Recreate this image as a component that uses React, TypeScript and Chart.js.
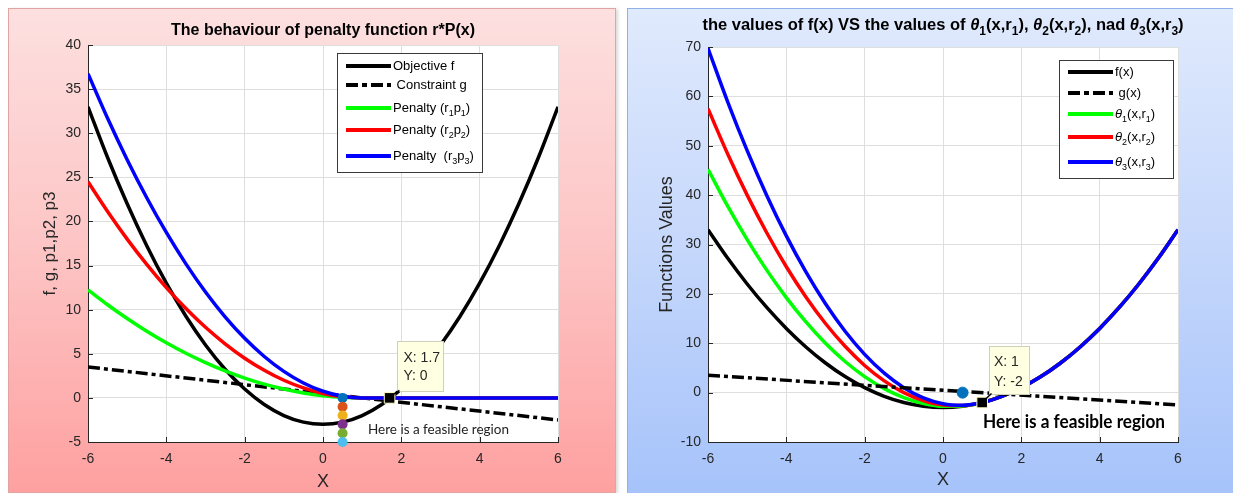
import React, { useEffect, useRef } from 'react';
import { Chart, registerables } from 'chart.js';

Chart.register(...registerables);

// ---------------- data ----------------
const X_VALUES = [-6, -5.5, -5, -4.5, -4, -3.5, -3, -2.5, -2, -1.5, -1, -0.5, 0, 0.5, 1, 1.5, 2, 2.5, 3, 3.5, 4, 4.5, 5, 5.5, 6];
const OBJECTIVE_F = [33, 27.25, 22, 17.25, 13, 9.25, 6, 3.25, 1, -0.75, -2, -2.75, -3, -2.75, -2, -0.75, 1, 3.25, 6, 9.25, 13, 17.25, 22, 27.25, 33];
const CONSTRAINT_X = [-6, 6];
const CONSTRAINT_G = [3.5, -2.5];
const PENALTY_1 = [12.25, 10.56, 9, 7.56, 6.25, 5.06, 4, 3.06, 2.25, 1.56, 1, 0.56, 0.25, 0.06, 0, 0, 0, 0, 0, 0, 0, 0, 0, 0, 0];
const PENALTY_2 = [24.5, 21.13, 18, 15.13, 12.5, 10.13, 8, 6.13, 4.5, 3.13, 2, 1.13, 0.5, 0.13, 0, 0, 0, 0, 0, 0, 0, 0, 0, 0, 0];
const PENALTY_3 = [36.75, 31.69, 27, 22.69, 18.75, 15.19, 12, 9.19, 6.75, 4.69, 3, 1.69, 0.75, 0.19, 0, 0, 0, 0, 0, 0, 0, 0, 0, 0, 0];
const THETA_1 = [45.25, 37.81, 31, 24.81, 19.25, 14.31, 10, 6.31, 3.25, 0.81, -1, -2.19, -2.75, -2.69, -2, -0.75, 1, 3.25, 6, 9.25, 13, 17.25, 22, 27.25, 33];
const THETA_2 = [57.5, 48.38, 40, 32.38, 25.5, 19.38, 14, 9.38, 5.5, 2.38, 0, -1.62, -2.5, -2.62, -2, -0.75, 1, 3.25, 6, 9.25, 13, 17.25, 22, 27.25, 33];
const THETA_3 = [69.75, 58.94, 49, 39.94, 31.75, 24.44, 18, 12.44, 7.75, 3.94, 1, -1.06, -2.25, -2.56, -2, -0.75, 1, 3.25, 6, 9.25, 13, 17.25, 22, 27.25, 33];

const MARKER_X = 0.5;
const MARKER_Y = [0, -1, -2, -3, -4, -5];
const MARKER_COLORS = ['#0072BD', '#D95319', '#EDB120', '#7E2F8E', '#77AC30', '#4DBEEE'];
const RIGHT_DOT = [0.5, 0];
const LEFT_TIP = [1.7, 0];
const RIGHT_TIP = [1, -2];

const X_TICK_STEP = 2;
const LEFT_Y = [-5, 40, 5];
const RIGHT_Y = [-10, 70, 10];

// ---------------- styling ----------------
const FONT = '"Liberation Sans", Arial, Helvetica, sans-serif';
const NOTE_FONT = 'Lato, "Open Sans", sans-serif';
const TXT = '#262626';
const GRID = '#dedede';

type Seg = { t: string; sub?: boolean; it?: boolean };
type LegendItem = { y: number; color: string; dash?: number[]; segs: Seg[] };
type PanelCfg = {
  title: Seg[];
  titleY: number;
  titleSize: number;
  yTitle: string;
  yTitleX: number;
  yTitleSize: number;
  xTitleY: number;
  legendBox: [number, number, number, number];
  legendLineX: [number, number];
  legendTextX: number;
  legendSize: number;
  legend: LegendItem[];
  tip: { x: number; y: number; lines: string[]; dx: number; dy: number; w: number; h: number; tx: number; ly: number[] };
  note: { text: string; x: number; w: number; y: number; size: number; bold: boolean; color: string };
};

function drawRich(ctx: CanvasRenderingContext2D, segs: Seg[], x: number, y: number, size: number, bold: boolean, align: 'left' | 'center', color: string) {
  const fontFor = (s: Seg) => `${s.it ? 'italic ' : ''}${bold ? 'bold ' : ''}${s.sub ? Math.round(size * 0.72) : size}px ${FONT}`;
  let total = 0;
  const widths = segs.map((s) => {
    ctx.font = fontFor(s);
    const w = ctx.measureText(s.t).width;
    total += w;
    return w;
  });
  let cx = align === 'center' ? x - total / 2 : x;
  ctx.fillStyle = color;
  ctx.textBaseline = 'middle';
  ctx.textAlign = 'left';
  segs.forEach((s, i) => {
    ctx.font = fontFor(s);
    ctx.fillText(s.t, cx, s.sub ? y + size * 0.4 : y);
    cx += widths[i];
  });
}

const makePlugin = (cfg: PanelCfg) => ({
  id: 'panelDecor',
  beforeDraw(chart: any) {
    const { ctx, chartArea: a } = chart;
    ctx.save();
    ctx.fillStyle = '#ffffff';
    ctx.fillRect(a.left, a.top, a.right - a.left, a.bottom - a.top);
    ctx.restore();
  },
  beforeDatasetsDraw(chart: any) {
    const { ctx, chartArea: a, scales } = chart;
    ctx.save();
    ctx.strokeStyle = TXT;
    ctx.lineWidth = 1;
    scales.x.ticks.forEach((t: any) => {
      const px = Math.round(scales.x.getPixelForValue(t.value)) + 0.5;
      ctx.beginPath();
      ctx.moveTo(px, a.bottom);
      ctx.lineTo(px, a.bottom - 5);
      ctx.stroke();
    });
    scales.y.ticks.forEach((t: any) => {
      const py = Math.round(scales.y.getPixelForValue(t.value)) + 0.5;
      ctx.beginPath();
      ctx.moveTo(a.left, py);
      ctx.lineTo(a.left + 5, py);
      ctx.stroke();
    });
    ctx.restore();
  },
  afterDraw(chart: any) {
    const { ctx, chartArea: a, scales } = chart;
    const cx = (a.left + a.right) / 2;
    const cy = (a.top + a.bottom) / 2;
    ctx.save();
    // title
    drawRich(ctx, cfg.title, cx, cfg.titleY, cfg.titleSize, true, 'center', '#000');
    // axis titles
    ctx.fillStyle = TXT;
    ctx.textAlign = 'center';
    ctx.textBaseline = 'middle';
    ctx.font = `18px ${FONT}`;
    ctx.fillText('X', cx, cfg.xTitleY);
    ctx.save();
    ctx.translate(cfg.yTitleX, cy);
    ctx.rotate(-Math.PI / 2);
    ctx.font = `${cfg.yTitleSize}px ${FONT}`;
    ctx.fillText(cfg.yTitle, 0, 0);
    ctx.restore();

    // legend
    const [bx1, by1, bx2, by2] = cfg.legendBox;
    ctx.fillStyle = '#ffffff';
    ctx.fillRect(bx1, by1, bx2 - bx1, by2 - by1);
    ctx.strokeStyle = '#3a3a3a';
    ctx.lineWidth = 1;
    ctx.strokeRect(bx1 + 0.5, by1 + 0.5, bx2 - bx1, by2 - by1);
    cfg.legend.forEach((it) => {
      ctx.save();
      ctx.strokeStyle = it.color;
      ctx.lineWidth = 4;
      ctx.lineCap = 'butt';
      ctx.setLineDash(it.dash || []);
      ctx.beginPath();
      ctx.moveTo(cfg.legendLineX[0], it.y);
      ctx.lineTo(cfg.legendLineX[1], it.y);
      ctx.stroke();
      ctx.restore();
      drawRich(ctx, it.segs, cfg.legendTextX, it.y, cfg.legendSize, false, 'left', '#000');
    });

    // data tip
    const tp = cfg.tip;
    const px = scales.x.getPixelForValue(tp.x);
    const py = scales.y.getPixelForValue(tp.y);
    const l = Math.round(px + tp.dx) + 0.5;
    const t = Math.round(py + tp.dy) + 0.5;
    ctx.fillStyle = '#ffffe1';
    ctx.fillRect(l, t, tp.w, tp.h);
    ctx.strokeStyle = '#d0d0b8';
    ctx.strokeRect(l, t, tp.w, tp.h);
    ctx.strokeStyle = '#000';
    ctx.lineWidth = 1.5;
    ctx.beginPath();
    ctx.moveTo(px + 3, py - 3);
    ctx.lineTo(l + 2, t + tp.h - 1);
    ctx.stroke();
    ctx.fillStyle = TXT;
    ctx.font = `14px ${FONT}`;
    ctx.textAlign = 'left';
    ctx.textBaseline = 'middle';
    tp.lines.forEach((s, i) => ctx.fillText(s, l + tp.tx, py + tp.ly[i]));

    // note
    const n = cfg.note;
    ctx.font = `${n.bold ? 'bold ' : ''}${n.size}px ${NOTE_FONT}`;
    const m = ctx.measureText(n.text).width;
    ctx.save();
    ctx.translate(n.x, n.y);
    ctx.scale(Math.min(1.2, n.w / m), 1);
    ctx.fillStyle = n.color;
    ctx.textAlign = 'left';
    ctx.textBaseline = 'middle';
    ctx.fillText(n.text, 0, 0);
    ctx.restore();
    ctx.restore();
  },
});

const pts = (xs: number[], ys: number[]) => xs.map((x, i) => ({ x, y: ys[i] }));

const curve = (label: string, ys: number[], color: string, order: number) => ({
  label,
  data: pts(X_VALUES, ys),
  borderColor: color,
  backgroundColor: color,
  borderWidth: 3.5,
  pointRadius: 0,
  cubicInterpolationMode: 'monotone',
  fill: false,
  order,
});

const dashLine = (label: string, order: number) => ({
  label,
  data: pts(CONSTRAINT_X, CONSTRAINT_G),
  borderColor: '#000',
  borderWidth: 3.5,
  borderDash: [12, 4, 4, 4],
  pointRadius: 0,
  fill: false,
  order,
});

const tipSquare = (p: number[], order: number) => ({
  label: 'tip',
  data: [{ x: p[0], y: p[1] }],
  showLine: false,
  pointStyle: 'rect',
  pointRadius: 7.5,
  pointBackgroundColor: '#000',
  pointBorderColor: '#ffffcc',
  pointBorderWidth: 1,
  clip: false,
  order,
});

const sub = (t: string): Seg => ({ t, sub: true });

const leftCfg: PanelCfg = {
  title: [{ t: 'The behaviour of penalty function r*P(x)' }],
  titleY: 23,
  titleSize: 16,
  yTitle: 'f, g, p1,p2, p3',
  yTitleX: 42,
  yTitleSize: 17,
  xTitleY: 474,
  legendBox: [329, 45, 474, 164],
  legendLineX: [338, 383],
  legendTextX: 385,
  legendSize: 13,
  legend: [
    { y: 58, color: '#000', segs: [{ t: 'Objective f' }] },
    { y: 77, color: '#000', dash: [12, 4, 5, 4], segs: [{ t: ' Constraint g' }] },
    { y: 100, color: '#00ff00', segs: [{ t: 'Penalty (r' }, sub('1'), { t: 'p' }, sub('1'), { t: ')' }] },
    { y: 122, color: '#ff0000', segs: [{ t: 'Penalty (r' }, sub('2'), { t: 'p' }, sub('2'), { t: ')' }] },
    { y: 148, color: '#0000ff', segs: [{ t: 'Penalty  (r' }, sub('3'), { t: 'p' }, sub('3'), { t: ')' }] },
  ],
  tip: { x: LEFT_TIP[0], y: LEFT_TIP[1], lines: ['X: 1.7', 'Y: 0'], dx: 7, dy: -57, w: 46, h: 50, tx: 6, ly: [-40, -21.5] },
  note: { text: 'Here is a feasible region', x: 360, w: 141, y: 421, size: 14, bold: false, color: '#222' },
};

const rightCfg: PanelCfg = {
  title: [
    { t: 'the values of f(x) VS the values of ' },
    { t: 'θ', it: true }, sub('1'), { t: '(x,r' }, sub('1'), { t: '), ' },
    { t: 'θ', it: true }, sub('2'), { t: '(x,r' }, sub('2'), { t: '), nad ' },
    { t: 'θ', it: true }, sub('3'), { t: '(x,r' }, sub('3'), { t: ')' },
  ],
  titleY: 17,
  titleSize: 16.5,
  yTitle: 'Functions Values',
  yTitleX: 40,
  yTitleSize: 18,
  xTitleY: 472,
  legendBox: [432, 52, 546, 170],
  legendLineX: [441, 486],
  legendTextX: 488,
  legendSize: 13,
  legend: [
    { y: 64, color: '#000', segs: [{ t: 'f(x)' }] },
    { y: 85, color: '#000', dash: [12, 4, 5, 4], segs: [{ t: ' g(x)' }] },
    { y: 106, color: '#00ff00', segs: [{ t: 'θ', it: true }, sub('1'), { t: '(x,r' }, sub('1'), { t: ')' }] },
    { y: 129, color: '#ff0000', segs: [{ t: 'θ', it: true }, sub('2'), { t: '(x,r' }, sub('2'), { t: ')' }] },
    { y: 154, color: '#0000ff', segs: [{ t: 'θ', it: true }, sub('3'), { t: '(x,r' }, sub('3'), { t: ')' }] },
  ],
  tip: { x: RIGHT_TIP[0], y: RIGHT_TIP[1], lines: ['X: 1', 'Y: -2'], dx: 6.5, dy: -57, w: 40, h: 48, tx: 4.5, ly: [-40, -20] },
  note: { text: 'Here is a feasible region', x: 356, w: 182, y: 414, size: 18, bold: true, color: '#000' },
};

const leftDatasets = [
  {
    label: 'markers',
    data: MARKER_Y.map((y) => ({ x: MARKER_X, y })),
    showLine: false,
    pointStyle: 'circle',
    pointRadius: 5,
    pointBackgroundColor: MARKER_COLORS,
    pointBorderColor: MARKER_COLORS,
    pointBorderWidth: 0,
    clip: false,
    order: 0,
  },
  tipSquare(LEFT_TIP, 1),
  curve('Penalty (r3p3)', PENALTY_3, '#0000ff', 2),
  curve('Penalty (r2p2)', PENALTY_2, '#ff0000', 3),
  curve('Penalty (r1p1)', PENALTY_1, '#00ff00', 4),
  dashLine('Constraint g', 5),
  curve('Objective f', OBJECTIVE_F, '#000000', 6),
];

const rightDatasets = [
  {
    label: 'dot',
    data: [{ x: RIGHT_DOT[0], y: RIGHT_DOT[1] }],
    showLine: false,
    pointStyle: 'circle',
    pointRadius: 5.5,
    pointBackgroundColor: '#0072BD',
    pointBorderColor: '#0072BD',
    clip: false,
    order: 0,
  },
  tipSquare(RIGHT_TIP, 1),
  dashLine('g(x)', 2),
  curve('θ3(x,r3)', THETA_3, '#0000ff', 3),
  curve('θ2(x,r2)', THETA_2, '#ff0000', 4),
  curve('θ1(x,r1)', THETA_1, '#00ff00', 5),
  curve('f(x)', OBJECTIVE_F, '#000000', 6),
];

type PanelProps = {
  cfg: PanelCfg;
  datasets: any[];
  yRange: number[];
  width: number;
  height: number;
  pad: { top: number; right: number };
  yWidth: number;
  xHeight: number;
  style: React.CSSProperties;
};

function Panel({ cfg, datasets, yRange, width, height, pad, yWidth, xHeight, style }: PanelProps) {
  const ref = useRef<HTMLCanvasElement>(null);
  useEffect(() => {
    const canvas = ref.current;
    if (!canvas) return;
    const tickFont = { family: FONT, size: 14 };
    const chart = new Chart(canvas, {
      type: 'line',
      data: { datasets },
      options: {
        animation: false,
        responsive: false,
        maintainAspectRatio: false,
        devicePixelRatio: 1,
        layout: { padding: { left: 0, top: pad.top, right: pad.right, bottom: 0 } },
        plugins: { legend: { display: false }, title: { display: false }, tooltip: { enabled: false } },
        scales: {
          x: {
            type: 'linear',
            min: -6,
            max: 6,
            ticks: { stepSize: X_TICK_STEP, color: TXT, font: tickFont, padding: 9, maxRotation: 0, autoSkip: false },
            grid: { color: GRID, drawTicks: false },
            border: { color: TXT, width: 1 },
            afterFit: (s: any) => {
              s.height = xHeight;
            },
          },
          y: {
            type: 'linear',
            min: yRange[0],
            max: yRange[1],
            ticks: { stepSize: yRange[2], color: TXT, font: tickFont, padding: 7, autoSkip: false },
            grid: { color: GRID, drawTicks: false },
            border: { color: TXT, width: 1 },
            afterFit: (s: any) => {
              s.width = yWidth;
            },
          },
        },
      } as any,
      plugins: [makePlugin(cfg)],
    });
    return () => chart.destroy();
  }, []);
  return (
    <div style={style}>
      <canvas ref={ref} width={width} height={height} style={{ display: 'block', position: 'absolute', left: 0, top: 0 }} />
    </div>
  );
}

export default function App() {
  return (
    <div style={{ position: 'fixed', inset: 0, overflow: 'hidden', background: '#ffffff' }}>
      <Panel
        cfg={leftCfg}
        datasets={leftDatasets}
        yRange={LEFT_Y}
        width={608}
        height={485}
        pad={{ top: 37, right: 58 }}
        yWidth={80}
        xHeight={51}
        style={{
          position: 'absolute',
          left: 8,
          top: 8,
          width: 608,
          height: 485,
          background: 'linear-gradient(to bottom, #fde0e0 0%, #fdc4c4 50%, #fea0a0 100%)',
          boxShadow: 'inset 0 0 0 1px #e2a3a3, 2px 1px 3px rgba(0,0,0,0.15)',
        }}
      />
      <Panel
        cfg={rightCfg}
        datasets={rightDatasets}
        yRange={RIGHT_Y}
        width={606}
        height={485}
        pad={{ top: 39, right: 55 }}
        yWidth={81}
        xHeight={51}
        style={{
          position: 'absolute',
          left: 627,
          top: 8,
          width: 606,
          height: 485,
          background: 'linear-gradient(to bottom, #e0eafd 0%, #c5d7fb 50%, #a6c3fa 100%)',
          boxShadow: 'inset 1px 1px 0 #8fb0e8',
        }}
      />
    </div>
  );
}
